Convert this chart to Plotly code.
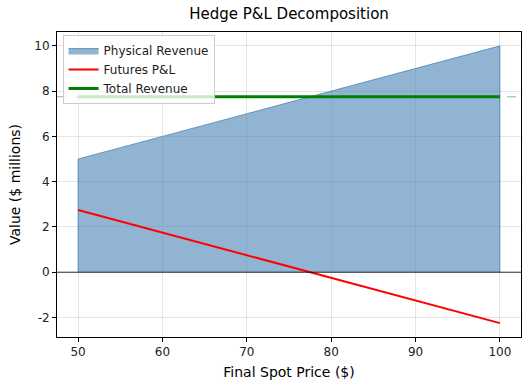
import plotly.graph_objects as go

prices = [50, 60, 70, 80, 90, 100]
physical_revenue = [5.0, 6.0, 7.0, 8.0, 9.0, 10.0]
futures_pnl = [2.75, 1.75, 0.75, -0.25, -1.25, -2.25]
total_revenue = [7.75, 7.75, 7.75, 7.75, 7.75, 7.75]
x_ticks = [50, 60, 70, 80, 90, 100]
y_ticks = [-2, 0, 2, 4, 6, 8, 10]
y_tick_labels = ["-2", "0", "2", "4", "6", "8", "10"]

FONT = "DejaVu Sans"

fig = go.Figure()

# Physical revenue area (closed polygon down to zero, like fill_between)
poly_x = [prices[0]] + prices + [prices[-1]]
poly_y = [0] + physical_revenue + [0]
fig.add_trace(go.Scatter(
    x=poly_x, y=poly_y, mode="lines", fill="toself",
    fillcolor="rgba(70,130,180,0.6)",
    line=dict(color="rgba(70,130,180,0.75)", width=1),
    name="Physical Revenue",
))
fig.add_trace(go.Scatter(
    x=prices, y=futures_pnl, mode="lines",
    line=dict(color="red", width=2), name="Futures P&L",
))
fig.add_trace(go.Scatter(
    x=prices, y=total_revenue, mode="lines",
    line=dict(color="green", width=3), name="Total Revenue",
))

# zero line and dashed total-level reference line
fig.add_shape(type="line", xref="paper", x0=0, x1=1, y0=0, y1=0,
              line=dict(color="black", width=0.8), layer="above")
fig.add_shape(type="line", xref="paper", x0=0, x1=1, y0=total_revenue[0], y1=total_revenue[0],
              line=dict(color="rgba(0,128,0,0.5)", width=1, dash="dash"), layer="below")

axis_common = dict(
    showline=True, linecolor="black", linewidth=1, mirror=True,
    ticks="outside", ticklen=4, tickcolor="black",
    showgrid=True, gridcolor="rgba(0,0,0,0.1)", gridwidth=1,
    zeroline=False, tickfont=dict(size=12, color="#222", family=FONT),
    automargin=False,
)

fig.update_layout(
    width=530, height=391,
    margin=dict(l=57, r=9, t=32, b=54, autoexpand=False),
    paper_bgcolor="white", plot_bgcolor="white",
    font=dict(family=FONT, color="#222"),
    title=dict(text="Hedge P&L Decomposition", x=0.5, xref="paper", xanchor="center",
               y=1, yref="container", yanchor="top", pad=dict(t=8),
               font=dict(size=15, color="black", family=FONT)),
    xaxis=dict(range=[47.5, 102.5], tickvals=x_ticks,
               title=dict(text="Final Spot Price ($)", font=dict(size=14, color="black"), standoff=8),
               **axis_common),
    yaxis=dict(range=[-2.8625, 10.6125], tickvals=y_ticks, ticktext=y_tick_labels,
               title=dict(text="Value ($ millions)", font=dict(size=14, color="black"), standoff=10),
               **axis_common),
    legend=dict(x=0.012, y=0.99, xanchor="left", yanchor="top",
                bgcolor="rgba(255,255,255,0.8)", bordercolor="#cccccc", borderwidth=1,
                font=dict(size=12, color="#222", family=FONT), tracegroupgap=0,
                itemwidth=30),
    showlegend=True,
)

fig.write_html("out.html", config={"displayModeBar": False},
               post_script="document.body.style.margin='0';document.body.style.overflow='hidden';")
